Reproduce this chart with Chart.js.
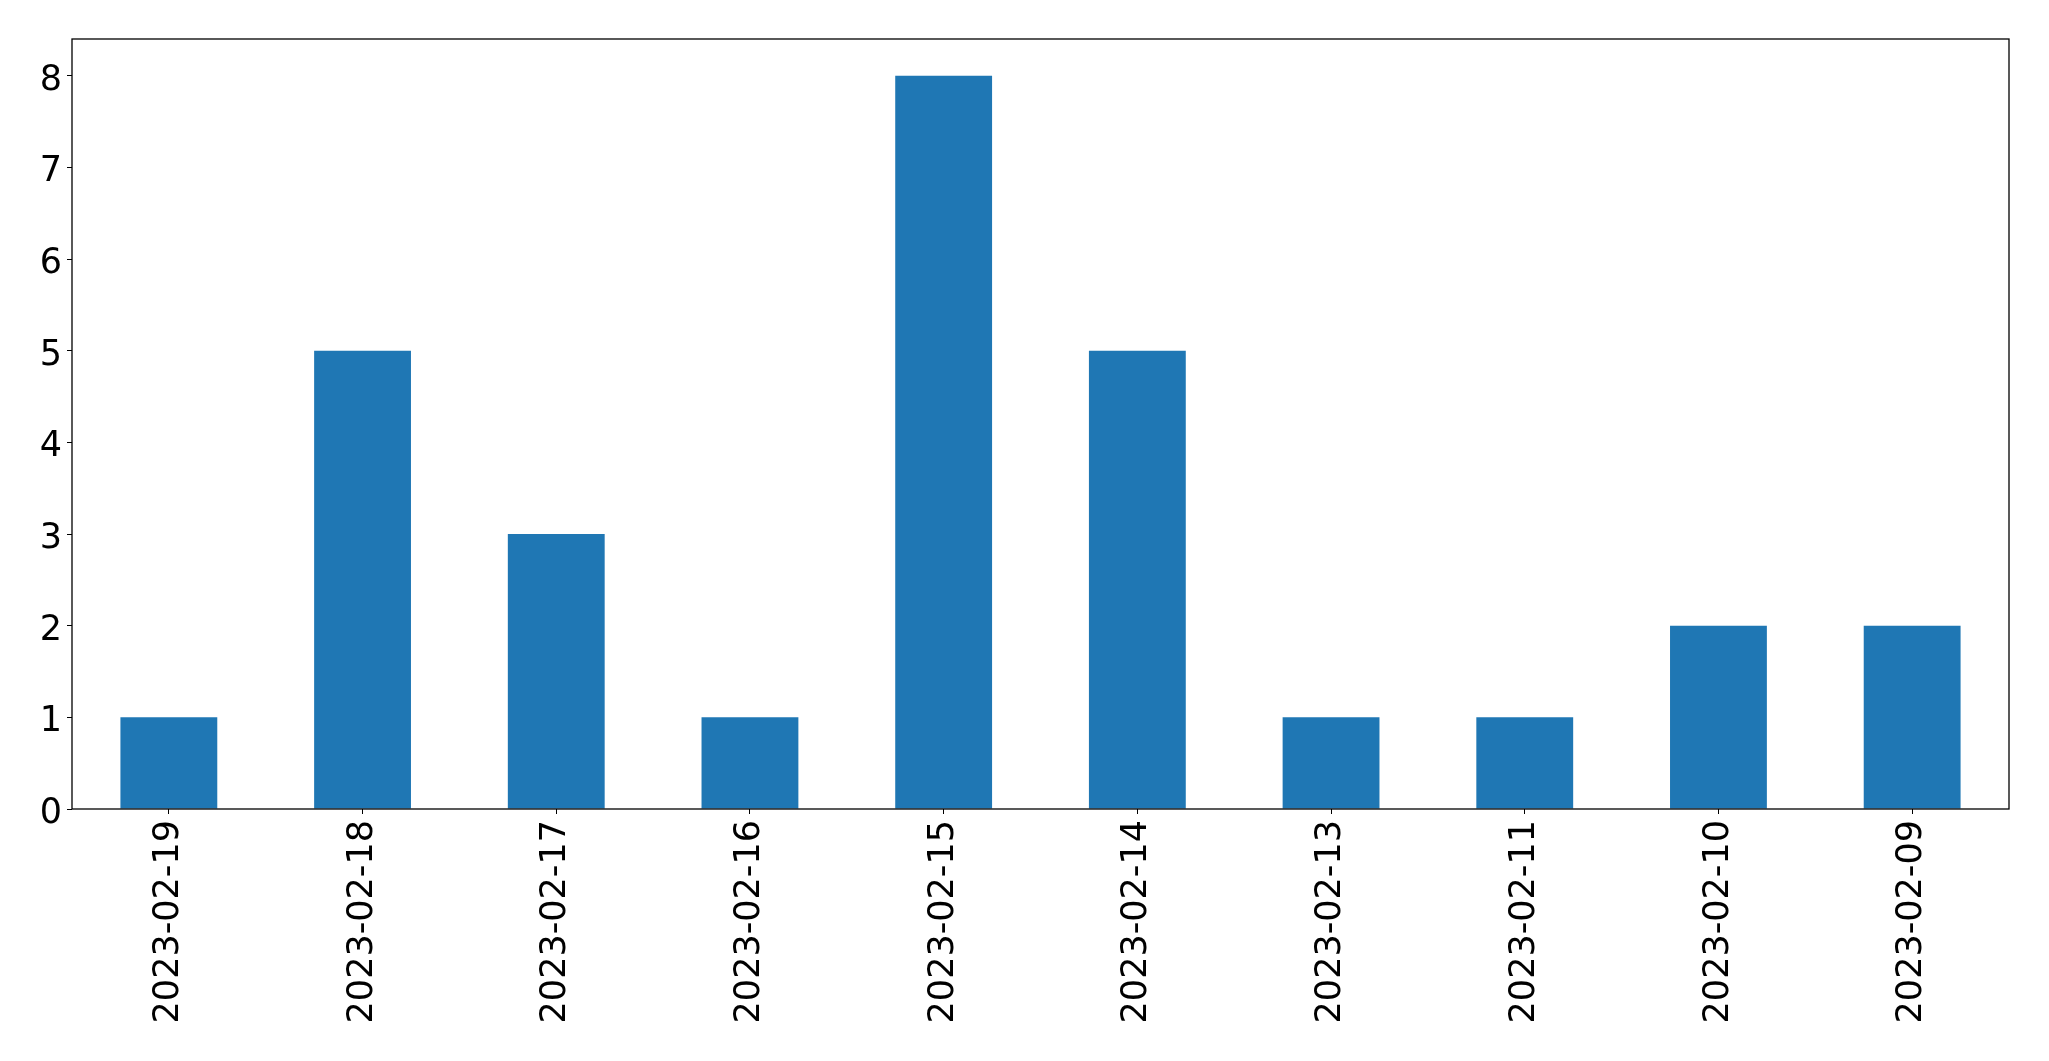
<!DOCTYPE html>
<html>
<head>
<meta charset="utf-8">
<script src="https://cdn.jsdelivr.net/npm/chart.js@4/dist/chart.umd.min.js"></script>
<style>
html,body{margin:0;padding:0;background:#fff;overflow:hidden;}
canvas{display:block;}
</style>
</head>
<body>
<canvas id="c" width="2049" height="1061"></canvas>
<script>
const categories = ["2023-02-19","2023-02-18","2023-02-17","2023-02-16","2023-02-15","2023-02-14","2023-02-13","2023-02-11","2023-02-10","2023-02-09"];
const counts = [1,5,3,1,8,5,1,1,2,2];
const yTicks = [0,1,2,3,4,5,6,7,8];

const frame = {
  id: 'frame',
  afterDraw(chart) {
    const a = chart.chartArea, ctx = chart.ctx;
    ctx.save();
    ctx.strokeStyle = '#000';
    ctx.lineWidth = 1.3;
    ctx.strokeRect(a.left, a.top, a.right - a.left, a.bottom - a.top);
    ctx.restore();
  }
};

new Chart(document.getElementById('c'), {
  type: 'bar',
  data: {
    labels: categories,
    datasets: [{ data: counts, backgroundColor: '#1f77b4', borderWidth: 0, barPercentage: 0.5, categoryPercentage: 1.0 }]
  },
  options: {
    responsive: false,
    animation: false,
    devicePixelRatio: 1,
    layout: { padding: { top: 39, right: 40, left: 0, bottom: 0 } },
    plugins: { legend: { display: false }, tooltip: { enabled: false } },
    scales: {
      x: {
        grid: { display: true, drawOnChartArea: false, drawTicks: true, tickLength: 5, color: '#000', offset: false },
        border: { display: false },
        ticks: { color: '#000', font: { family: 'DejaVu Sans', size: 35 }, minRotation: 90, maxRotation: 90, padding: 6, autoSkip: false },
        afterFit(s) { s.height = 252; }
      },
      y: {
        min: 0, max: 8.4,
        afterBuildTicks(s) { s.ticks = yTicks.map(v => ({ value: v })); },
        grid: { display: true, drawOnChartArea: false, drawTicks: true, tickLength: 5, color: '#000' },
        border: { display: false },
        ticks: { color: '#000', font: { family: 'DejaVu Sans', size: 35 }, padding: 5, labelOffset: 5 },
        afterFit(s) { s.width = 72; }
      }
    }
  },
  plugins: [frame]
});
</script>
</body>
</html>
